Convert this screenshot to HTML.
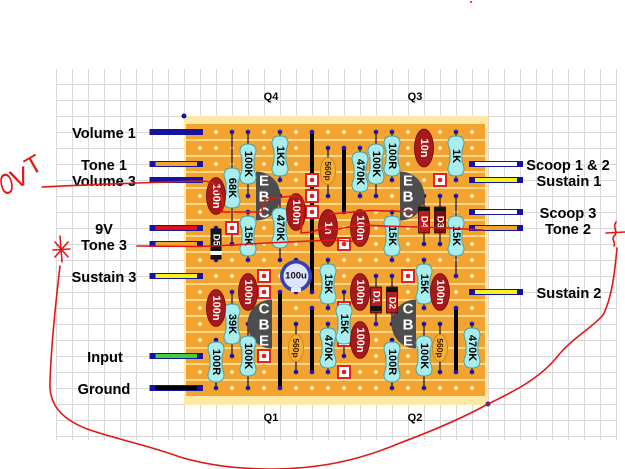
<!DOCTYPE html>
<html><head><meta charset="utf-8">
<style>
html,body{margin:0;padding:0;background:#fff;}
svg{display:block;}
.lbl{font-family:"Liberation Sans",Arial,sans-serif;font-weight:bold;font-size:14.6px;fill:#000;text-anchor:middle;}
.q{font-family:"Liberation Sans",Arial,sans-serif;font-weight:bold;font-size:11px;fill:#000;text-anchor:middle;}
.rt{font-family:"Liberation Sans",Arial,sans-serif;font-weight:bold;font-size:11px;fill:#000;text-anchor:middle;dominant-baseline:central;}
.ct{font-family:"Liberation Sans",Arial,sans-serif;font-weight:bold;font-size:11px;fill:#fff;text-anchor:middle;dominant-baseline:central;}
.pt{font-family:"Liberation Sans",Arial,sans-serif;font-weight:bold;font-size:8.5px;fill:#3a2000;text-anchor:middle;dominant-baseline:central;}
.dt{font-family:"Liberation Sans",Arial,sans-serif;font-weight:bold;font-size:9.5px;fill:#fff;text-anchor:middle;dominant-baseline:central;}
.tt{font-family:"Liberation Sans",Arial,sans-serif;font-weight:bold;font-size:15px;fill:#fff;text-anchor:middle;dominant-baseline:central;}
.hw{font-family:"Liberation Sans",Arial,sans-serif;fill:#e01818;}
.cap{fill:#a51a1a;stroke:#700808;stroke-width:0.8;}
.red{fill:none;stroke:#e01818;stroke-width:1.6;stroke-linecap:round;stroke-linejoin:round;}
</style></head><body>
<svg width="625" height="469" viewBox="0 0 625 469" xmlns="http://www.w3.org/2000/svg">
<defs>
<pattern id="grid" x="56" y="84" width="16" height="16" patternUnits="userSpaceOnUse">
<path d="M0.5,0 V16 M0,0.5 H16" stroke="#d9d9d9" stroke-width="1" fill="none"/>
</pattern>
<pattern id="holes" x="192" y="124" width="16" height="16" patternUnits="userSpaceOnUse">
<circle cx="8" cy="8" r="1.8" fill="#fff6dc"/>
</pattern>
<path id="rb" d="M0,-20 C6,-20 8,-17 8,-13 C8,-9 6,-8 6,-5 L6,5 C6,8 8,9 8,13 C8,17 6,20 0,20 C-6,20 -8,17 -8,13 C-8,9 -6,8 -6,5 L-6,-5 C-6,-8 -8,-9 -8,-13 C-8,-17 -6,-20 0,-20 Z" fill="#a8eeee" stroke="#4f9f9f" stroke-width="1"/>
<g id="cut"><rect x="-6" y="-6" width="12" height="12" fill="#fff" stroke="#e02222" stroke-width="2"/><circle r="2.3" fill="#e02222"/></g>
</defs>

<!-- grid -->
<rect x="56" y="69" width="561" height="371" fill="url(#grid)"/>

<!-- board -->
<rect x="184" y="116" width="304" height="289" fill="#fde8a4"/>
<rect x="186" y="124" width="299" height="272" fill="#f3a32f"/>
<path d="M186,140H485 M186,156H485 M186,172H485 M186,188H485 M186,204H485 M186,220H485 M186,236H485 M186,252H485 M186,268H485 M186,284H485 M186,300H485 M186,316H485 M186,332H485 M186,348H485 M186,364H485 M186,380H485" stroke="#fcd889" stroke-width="2"/>
<rect x="192" y="124" width="288" height="272" fill="url(#holes)"/>
<circle cx="184" cy="116" r="2.5" fill="#1414a0"/>

<!-- leads -->
<path stroke="#1c1c3a" stroke-width="1.3" fill="none" d="
M248,132V196 M280,132V180 M232,132V244 M280,196V260 M248,212V260 M360,148V196 M376,132V196 M392,132V180 M456,132V180 M456,196V276 M392,212V260
M232,292V356 M216,340V388 M248,324V388 M328,260V308 M328,324V372 M344,292V356 M424,260V308 M392,340V388 M424,324V388 M472,324V372
M216,180V212 M296,196V228 M328,212V244 M424,132V164 M360,212V244 M248,276V308 M216,292V324 M360,276V308 M360,324V356 M440,276V308
M328,148V196 M296,324V372 M440,324V372 M376,276V324 M392,276V324 M440,196V244 M424,196V244 M216,228V260 M296,260V292"/>

<!-- links -->
<path stroke="#000" stroke-width="4" d="M312,132V292 M312,308V372 M344,148V212 M280,292V388 M456,308V372"/>

<!-- navy dots -->
<g fill="#1414a0">
<circle cx="248" cy="132" r="2.3"/><circle cx="248" cy="196" r="2.3"/><circle cx="280" cy="132" r="2.3"/><circle cx="280" cy="180" r="2.3"/>
<circle cx="232" cy="132" r="2.3"/><circle cx="232" cy="244" r="2.3"/><circle cx="280" cy="196" r="2.3"/><circle cx="280" cy="260" r="2.3"/>
<circle cx="248" cy="212" r="2.3"/><circle cx="248" cy="260" r="2.3"/><circle cx="360" cy="148" r="2.3"/><circle cx="360" cy="196" r="2.3"/>
<circle cx="376" cy="132" r="2.3"/><circle cx="376" cy="196" r="2.3"/><circle cx="392" cy="132" r="2.3"/><circle cx="392" cy="180" r="2.3"/>
<circle cx="456" cy="132" r="2.3"/><circle cx="456" cy="180" r="2.3"/><circle cx="456" cy="196" r="2.3"/><circle cx="456" cy="276" r="2.3"/>
<circle cx="392" cy="212" r="2.3"/><circle cx="392" cy="260" r="2.3"/><circle cx="232" cy="292" r="2.3"/><circle cx="232" cy="356" r="2.3"/>
<circle cx="216" cy="340" r="2.3"/><circle cx="216" cy="388" r="2.3"/><circle cx="248" cy="324" r="2.3"/><circle cx="248" cy="388" r="2.3"/>
<circle cx="328" cy="260" r="2.3"/><circle cx="328" cy="308" r="2.3"/><circle cx="328" cy="324" r="2.3"/><circle cx="328" cy="372" r="2.3"/>
<circle cx="344" cy="292" r="2.3"/><circle cx="344" cy="356" r="2.3"/><circle cx="424" cy="260" r="2.3"/><circle cx="424" cy="308" r="2.3"/>
<circle cx="392" cy="340" r="2.3"/><circle cx="392" cy="388" r="2.3"/><circle cx="424" cy="324" r="2.3"/><circle cx="424" cy="388" r="2.3"/>
<circle cx="472" cy="324" r="2.3"/><circle cx="472" cy="372" r="2.3"/>
<circle cx="216" cy="180" r="2.3"/><circle cx="216" cy="212" r="2.3"/><circle cx="296" cy="196" r="2.3"/><circle cx="296" cy="228" r="2.3"/>
<circle cx="328" cy="212" r="2.3"/><circle cx="328" cy="244" r="2.3"/><circle cx="424" cy="132" r="2.3"/><circle cx="424" cy="164" r="2.3"/>
<circle cx="360" cy="212" r="2.3"/><circle cx="360" cy="244" r="2.3"/><circle cx="248" cy="276" r="2.3"/><circle cx="248" cy="308" r="2.3"/>
<circle cx="216" cy="292" r="2.3"/><circle cx="216" cy="324" r="2.3"/><circle cx="360" cy="276" r="2.3"/><circle cx="360" cy="308" r="2.3"/>
<circle cx="360" cy="324" r="2.3"/><circle cx="360" cy="356" r="2.3"/><circle cx="440" cy="276" r="2.3"/><circle cx="440" cy="308" r="2.3"/>
<circle cx="328" cy="148" r="2.3"/><circle cx="328" cy="196" r="2.3"/><circle cx="296" cy="324" r="2.3"/><circle cx="296" cy="372" r="2.3"/>
<circle cx="440" cy="324" r="2.3"/><circle cx="440" cy="372" r="2.3"/>
<circle cx="376" cy="276" r="2.3"/><circle cx="376" cy="324" r="2.3"/><circle cx="392" cy="276" r="2.3"/><circle cx="392" cy="324" r="2.3"/>
<circle cx="440" cy="196" r="2.3"/><circle cx="440" cy="244" r="2.3"/><circle cx="424" cy="196" r="2.3"/><circle cx="424" cy="244" r="2.3"/>
<circle cx="216" cy="228" r="2.3"/><circle cx="216" cy="260" r="2.3"/><circle cx="296" cy="260" r="2.3"/><circle cx="296" cy="292" r="2.3"/>
<circle cx="312" cy="132" r="2.3"/><circle cx="312" cy="292" r="2.3"/><circle cx="312" cy="308" r="2.3"/><circle cx="312" cy="372" r="2.3"/>
<circle cx="344" cy="148" r="2.3"/><circle cx="344" cy="212" r="2.3"/><circle cx="280" cy="292" r="2.3"/><circle cx="280" cy="388" r="2.3"/>
<circle cx="456" cy="308" r="2.3"/><circle cx="456" cy="372" r="2.3"/>
</g>

<!-- track cuts -->
<use href="#cut" x="312" y="180"/><use href="#cut" x="312" y="196"/><use href="#cut" x="312" y="212"/>
<use href="#cut" x="232" y="228"/><use href="#cut" x="440" y="180"/><use href="#cut" x="344" y="244"/>
<use href="#cut" x="264" y="276"/><use href="#cut" x="264" y="292"/><use href="#cut" x="264" y="356"/>
<use href="#cut" x="344" y="308"/><use href="#cut" x="344" y="340"/><use href="#cut" x="344" y="372"/>
<use href="#cut" x="408" y="276"/>

<!-- transistors -->
<path d="M256,171.5 A24.5,24.5 0 0 1 256,220.5 Z" fill="#4d4d4d"/>
<path d="M400,171.5 A24.5,24.5 0 0 1 400,220.5 Z" fill="#4d4d4d"/>
<path d="M272,299.5 A24.5,24.5 0 0 0 272,348.5 Z" fill="#4d4d4d"/>
<path d="M416,299.5 A24.5,24.5 0 0 0 416,348.5 Z" fill="#4d4d4d"/>
<text class="tt" x="264" y="181">E</text><text class="tt" x="264" y="197">B</text><text class="tt" x="264" y="213">C</text>
<text class="tt" x="408" y="181">E</text><text class="tt" x="408" y="197">B</text><text class="tt" x="408" y="213">C</text>
<text class="tt" x="264" y="309">C</text><text class="tt" x="264" y="325">B</text><text class="tt" x="264" y="341">E</text>
<text class="tt" x="408" y="309">C</text><text class="tt" x="408" y="325">B</text><text class="tt" x="408" y="341">E</text>

<!-- resistors -->
<g transform="translate(248,164)"><use href="#rb"/><text class="rt" transform="rotate(90)">100K</text></g>
<g transform="translate(280,156)"><use href="#rb"/><text class="rt" transform="rotate(90)">1K2</text></g>
<g transform="translate(232,188)"><use href="#rb"/><text class="rt" transform="rotate(90)">68K</text></g>
<g transform="translate(280,228)"><use href="#rb"/><text class="rt" transform="rotate(90)">470K</text></g>
<g transform="translate(248,236)"><use href="#rb"/><text class="rt" transform="rotate(90)">15K</text></g>
<g transform="translate(360,172)"><use href="#rb"/><text class="rt" transform="rotate(90)">470K</text></g>
<g transform="translate(376,164)"><use href="#rb"/><text class="rt" transform="rotate(90)">100K</text></g>
<g transform="translate(392,156)"><use href="#rb"/><text class="rt" transform="rotate(90)">100R</text></g>
<g transform="translate(456,156)"><use href="#rb"/><text class="rt" transform="rotate(90)">1K</text></g>
<g transform="translate(456,236)"><use href="#rb"/><text class="rt" transform="rotate(90)">15K</text></g>
<g transform="translate(392,236)"><use href="#rb"/><text class="rt" transform="rotate(90)">15K</text></g>
<g transform="translate(232,324)"><use href="#rb"/><text class="rt" transform="rotate(90)">39K</text></g>
<g transform="translate(216,362)"><use href="#rb"/><text class="rt" transform="rotate(90)">100R</text></g>
<g transform="translate(248,356)"><use href="#rb"/><text class="rt" transform="rotate(90)">100K</text></g>
<g transform="translate(328,284)"><use href="#rb"/><text class="rt" transform="rotate(90)">15K</text></g>
<g transform="translate(328,348)"><use href="#rb"/><text class="rt" transform="rotate(90)">470K</text></g>
<g transform="translate(344,324)"><use href="#rb"/><text class="rt" transform="rotate(90)">15K</text></g>
<g transform="translate(424,284)"><use href="#rb"/><text class="rt" transform="rotate(90)">15K</text></g>
<g transform="translate(392,362)"><use href="#rb"/><text class="rt" transform="rotate(90)">100R</text></g>
<g transform="translate(424,356)"><use href="#rb"/><text class="rt" transform="rotate(90)">100K</text></g>
<g transform="translate(472,348)"><use href="#rb"/><text class="rt" transform="rotate(90)">470K</text></g>

<!-- film caps -->
<g transform="translate(216,196)"><ellipse rx="9.5" ry="18.5" class="cap"/><text class="ct" transform="rotate(90)">100n</text></g>
<g transform="translate(296,212)"><ellipse rx="9.5" ry="18.5" class="cap"/><text class="ct" transform="rotate(90)">100n</text></g>
<g transform="translate(328,228)"><ellipse rx="9.5" ry="18.5" class="cap"/><text class="ct" transform="rotate(90)">1n</text></g>
<g transform="translate(424,148)"><ellipse rx="9.5" ry="19" class="cap"/><text class="ct" transform="rotate(90)">10n</text></g>
<g transform="translate(360,228)"><ellipse rx="9.5" ry="18.5" class="cap"/><text class="ct" transform="rotate(90)">100n</text></g>
<g transform="translate(248,292)"><ellipse rx="9.5" ry="18.5" class="cap"/><text class="ct" transform="rotate(90)">100n</text></g>
<g transform="translate(216,308)"><ellipse rx="9.5" ry="18.5" class="cap"/><text class="ct" transform="rotate(90)">100n</text></g>
<g transform="translate(360,292)"><ellipse rx="9.5" ry="18.5" class="cap"/><text class="ct" transform="rotate(90)">100n</text></g>
<g transform="translate(360,340)"><ellipse rx="9.5" ry="18.5" class="cap"/><text class="ct" transform="rotate(90)">100n</text></g>
<g transform="translate(440,292)"><ellipse rx="9.5" ry="18.5" class="cap"/><text class="ct" transform="rotate(90)">100n</text></g>

<!-- 560p caps -->
<g transform="translate(328,171)"><ellipse rx="7.5" ry="13.5" fill="#f6ae34" stroke="#c98a20" stroke-width="1"/><text class="pt" transform="rotate(90)">560p</text></g>
<g transform="translate(296,348)"><ellipse rx="7.5" ry="13.5" fill="#f6ae34" stroke="#c98a20" stroke-width="1"/><text class="pt" transform="rotate(90)">560p</text></g>
<g transform="translate(440,348)"><ellipse rx="7.5" ry="13.5" fill="#f6ae34" stroke="#c98a20" stroke-width="1"/><text class="pt" transform="rotate(90)">560p</text></g>

<!-- diodes -->
<g transform="translate(376,300)"><rect x="-5.5" y="-13" width="11" height="26" fill="#b81c1c" stroke="#300" stroke-width="0.8"/><rect x="-5.5" y="6" width="11" height="5" fill="#111"/><text class="dt" transform="rotate(90)" x="-3">D1</text></g>
<g transform="translate(392,300)"><rect x="-5.5" y="-13" width="11" height="26" fill="#b81c1c" stroke="#300" stroke-width="0.8"/><rect x="-5.5" y="-13" width="11" height="5" fill="#111"/><text class="dt" transform="rotate(90)" x="3">D2</text></g>
<g transform="translate(424,220)"><rect x="-5.5" y="-13" width="11" height="26" fill="#b81c1c" stroke="#300" stroke-width="0.8"/><rect x="-5.5" y="-13" width="11" height="4" fill="#111"/><text class="dt" transform="rotate(90)" x="2">D4</text></g>
<g transform="translate(440,220)"><rect x="-5.5" y="-13" width="11" height="26" fill="#7c0d0d" stroke="#300" stroke-width="0.8"/><rect x="-5.5" y="-13" width="11" height="4" fill="#111"/><text class="dt" transform="rotate(90)" x="2">D3</text></g>
<g transform="translate(216,244)"><rect x="-5.5" y="-15.5" width="11" height="31" fill="#151515"/><rect x="-5.5" y="7" width="11" height="4" fill="#fff"/><text class="dt" transform="rotate(90)" x="-4">D5</text></g>

<!-- electrolytic -->
<circle cx="296" cy="276" r="16" fill="#3341b8"/>
<circle cx="296" cy="276" r="12.5" fill="#dfe5ff"/>
<rect x="291" y="288" width="10" height="4" fill="#e8ecff"/>
<text x="296" y="276" style="font-family:'Liberation Sans',Arial,sans-serif;font-weight:bold;font-size:9.5px;fill:#111;text-anchor:middle;dominant-baseline:central;">100u</text>

<!-- off-board wires -->
<g stroke="#1414a0" stroke-width="1">
<rect x="152" y="129.5" width="48" height="5" fill="#1414a0"/>
<rect x="152" y="161.5" width="48" height="5" fill="#f3a32f"/>
<rect x="152" y="177.5" width="48" height="5" fill="#1414a0"/>
<rect x="152" y="225.5" width="48" height="5" fill="#e01212"/>
<rect x="152" y="241.5" width="48" height="5" fill="#f3a32f"/>
<rect x="152" y="273.5" width="48" height="5" fill="#f6f020"/>
<rect x="152" y="353.5" width="48" height="5" fill="#3fd03f"/>
<rect x="152" y="385.5" width="48" height="5" fill="#000"/>
<rect x="472" y="161.5" width="48" height="5" fill="#fff"/>
<rect x="472" y="177.5" width="48" height="5" fill="#f6f020"/>
<rect x="472" y="209.5" width="48" height="5" fill="#fff"/>
<rect x="472" y="225.5" width="48" height="5" fill="#f3a32f"/>
<rect x="472" y="289.5" width="48" height="5" fill="#f6f020"/>
</g>
<g fill="#1414a0">
<rect x="149.5" y="129" width="6" height="6"/><rect x="197" y="129" width="6" height="6"/>
<rect x="149.5" y="161" width="6" height="6"/><rect x="197" y="161" width="6" height="6"/>
<rect x="149.5" y="177" width="6" height="6"/><rect x="197" y="177" width="6" height="6"/>
<rect x="149.5" y="225" width="6" height="6"/><rect x="197" y="225" width="6" height="6"/>
<rect x="149.5" y="241" width="6" height="6"/><rect x="197" y="241" width="6" height="6"/>
<rect x="149.5" y="273" width="6" height="6"/><rect x="197" y="273" width="6" height="6"/>
<rect x="149.5" y="353" width="6" height="6"/><rect x="197" y="353" width="6" height="6"/>
<rect x="149.5" y="385" width="6" height="6"/><rect x="197" y="385" width="6" height="6"/>
<rect x="469" y="161" width="6" height="6"/><rect x="517" y="161" width="6" height="6"/>
<rect x="469" y="177" width="6" height="6"/><rect x="517" y="177" width="6" height="6"/>
<rect x="469" y="209" width="6" height="6"/><rect x="517" y="209" width="6" height="6"/>
<rect x="469" y="225" width="6" height="6"/><rect x="517" y="225" width="6" height="6"/>
<rect x="469" y="289" width="6" height="6"/><rect x="517" y="289" width="6" height="6"/>
</g>

<!-- labels -->
<text class="lbl" x="104" y="138">Volume 1</text>
<text class="lbl" x="104" y="170">Tone 1</text>
<text class="lbl" x="104" y="186">Volume 3</text>
<text class="lbl" x="104" y="234">9V</text>
<text class="lbl" x="104" y="250">Tone 3</text>
<text class="lbl" x="104" y="282">Sustain 3</text>
<text class="lbl" x="105" y="362">Input</text>
<text class="lbl" x="104" y="394">Ground</text>
<text class="lbl" x="568" y="170">Scoop 1 &amp; 2</text>
<text class="lbl" x="569" y="186">Sustain 1</text>
<text class="lbl" x="568" y="218">Scoop 3</text>
<text class="lbl" x="568" y="234">Tone 2</text>
<text class="lbl" x="569" y="298">Sustain 2</text>

<text class="q" x="271" y="100">Q4</text>
<text class="q" x="415" y="100">Q3</text>
<text class="q" x="271" y="421">Q1</text>
<text class="q" x="415" y="421">Q2</text>

<!-- red hand-drawn annotations -->
<text class="hw" transform="translate(2,195) rotate(-12) scale(0.6,1)" style="font-size:29px;">O</text>
<text class="hw" transform="translate(15,189) rotate(-22)" style="font-size:26px;">V</text>
<text class="hw" transform="translate(31,176) rotate(-30)" style="font-size:25px;">T</text>
<path class="red" d="M42,187 C80,185 110,184 137,183 L200,181 C208,181 214,182 217,188 C223,196 224,204 222,212 L262,212 C262,205 264,200 268,199 L292,196 C300,196 304,200 303,205 L301,233 L313,232 L323,227 L333,230 L360,225 L383,226 L417,227 L450,228 L483,230"/>
<path class="red" d="M330,214 L370,210.5 L405,211.5 L413,212"/>
<path class="red" d="M137,246 L200,246.5 L233,245 L267,243 L300,241.5 L333,240 L362,242"/>
<path class="red" d="M60,236 L62,262 M53,250 L70,249 M55,242 L68,257 M55,257 L68,242"/>
<path class="red" d="M60,266 C56,300 51,345 50,383 C49,405 62,420 90,430 C120,440 150,446 180,457 C210,466 240,469 270,469 C320,469 360,460 400,443 C440,428 470,414 488,404 C515,391 540,378 557,357 C572,338 592,328 603,315 C612,298 615,270 617,248"/>
<path class="red" d="M606,233 L625,232 M616,222 C612,228 619,232 614,236 C611,240 616,242 614,246"/>
<circle cx="488" cy="404" r="2.5" fill="#702080"/>
<circle cx="471" cy="2" r="1" fill="#e01818"/>
</svg>
</body></html>
